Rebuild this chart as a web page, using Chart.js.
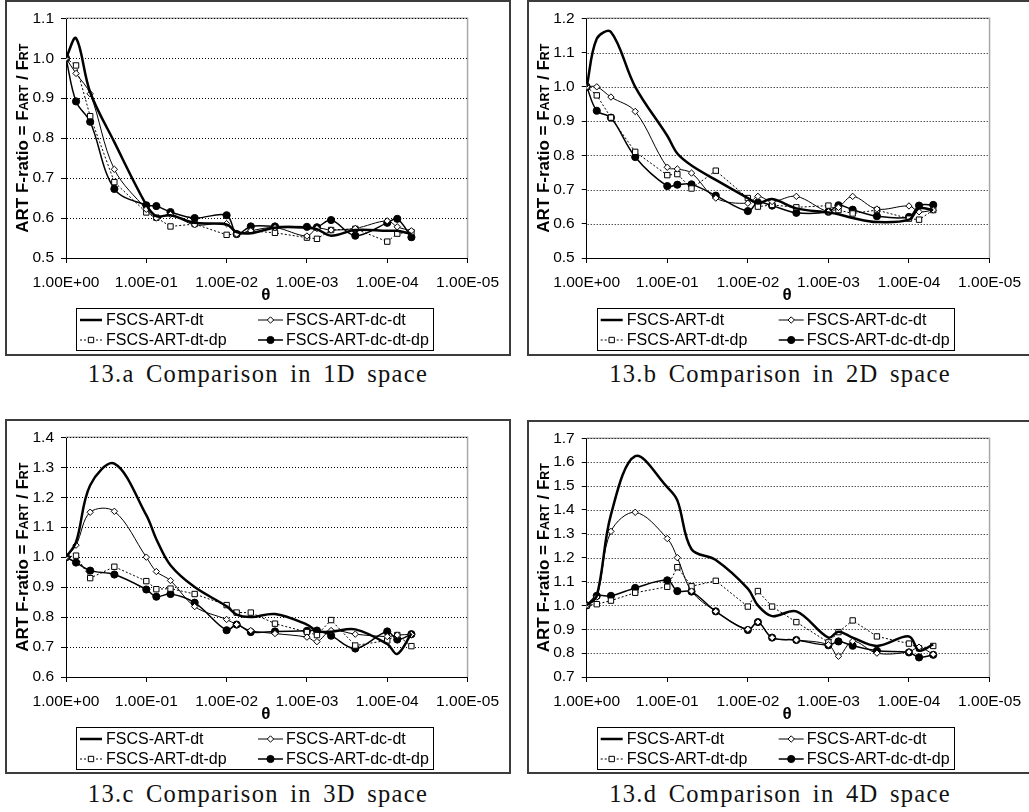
<!DOCTYPE html>
<html><head><meta charset="utf-8">
<script src="https://cdn.jsdelivr.net/npm/chart.js@4.4.1/dist/chart.umd.min.js"></script>
<style>
html,body{margin:0;padding:0;background:#fff;width:1029px;height:812px;overflow:hidden;position:relative;}
.frame{position:absolute;border:2px solid #3c3c3c;box-sizing:border-box;}
canvas{position:absolute;}
.cap{position:absolute;font-family:"Liberation Serif","Times New Roman",serif;font-size:24.5px;line-height:24px;letter-spacing:1.3px;word-spacing:4px;text-align:center;color:#111;white-space:nowrap;}
</style></head><body>
<script>
// ---------------- DATA ----------------
const theta = [1, 0.75, 0.5, 0.25, 0.1, 0.075, 0.05, 0.025, 0.01, 0.0075, 0.005, 0.0025, 0.001, 0.00075, 0.0005, 0.00025, 0.0001, 0.000075, 0.00005];
const seriesNames = ['FSCS-ART-dt', 'FSCS-ART-dc-dt', 'FSCS-ART-dt-dp', 'FSCS-ART-dc-dt-dp'];
const xTickValues = [1, 0.1, 0.01, 0.001, 0.0001, 0.00001];
const xTickLabels = ['1.00E+00', '1.00E-01', '1.00E-02', '1.00E-03', '1.00E-04', '1.00E-05'];
const captions = ['13.a Comparison in 1D space', '13.b Comparison in 2D space', '13.c Comparison in 3D space', '13.d Comparison in 4D space'];

// 1D
const a_dt     = [1.0, 1.05, 0.915, 0.79, 0.633, 0.605, 0.607, 0.588, 0.584, 0.565, 0.562, 0.576, 0.576, 0.572, 0.556, 0.570, 0.568, 0.568, 0.560];
const a_dcdt   = [1.0, 0.962, 0.911, 0.722, 0.622, 0.600, 0.609, 0.583, 0.586, 0.560, 0.568, 0.576, 0.555, 0.574, 0.570, 0.574, 0.593, 0.578, 0.568];
const a_dtdp   = [1.0, 0.982, 0.855, 0.690, 0.614, 0.601, 0.579, 0.585, 0.558, 0.560, 0.568, 0.563, 0.551, 0.548, 0.570, 0.573, 0.541, 0.561, 0.565];
const a_dcdtdp = [1.0, 0.892, 0.841, 0.673, 0.632, 0.630, 0.615, 0.600, 0.607, 0.560, 0.579, 0.579, 0.578, 0.577, 0.595, 0.556, 0.588, 0.598, 0.552];
const a_yTicks = [0.5, 0.6, 0.7, 0.8, 0.9, 1.0, 1.1];
// 2D
const b_dt     = [1.0, 1.14, 1.16, 1.0, 0.857, 0.805, 0.77, 0.728, 0.675, 0.66, 0.672, 0.645, 0.633, 0.628, 0.617, 0.605, 0.612, 0.645, 0.64];
const b_dcdt   = [1.0, 1.0, 0.97, 0.928, 0.765, 0.76, 0.748, 0.675, 0.66, 0.68, 0.665, 0.68, 0.635, 0.648, 0.68, 0.643, 0.652, 0.635, 0.64];
const b_dtdp   = [1.0, 0.975, 0.91, 0.81, 0.742, 0.745, 0.703, 0.755, 0.675, 0.65, 0.655, 0.648, 0.653, 0.64, 0.63, 0.64, 0.615, 0.612, 0.64];
const b_dcdtdp = [1.0, 0.93, 0.91, 0.795, 0.71, 0.714, 0.715, 0.682, 0.637, 0.662, 0.653, 0.632, 0.635, 0.654, 0.641, 0.622, 0.62, 0.653, 0.655];
const b_yTicks = [0.5, 0.6, 0.7, 0.8, 0.9, 1.0, 1.1, 1.2];
// 3D
const c_dt     = [1.0, 1.05, 1.24, 1.312, 1.14, 1.06, 0.973, 0.9, 0.836, 0.808, 0.80, 0.81, 0.775, 0.753, 0.751, 0.759, 0.71, 0.677, 0.745];
const c_dcdt   = [1.0, 1.04, 1.15, 1.153, 1.0, 0.952, 0.922, 0.835, 0.792, 0.775, 0.755, 0.745, 0.733, 0.718, 0.755, 0.743, 0.735, 0.74, 0.742];
const c_dtdp   = [1.0, 1.005, 0.93, 0.968, 0.92, 0.893, 0.895, 0.877, 0.84, 0.815, 0.815, 0.778, 0.75, 0.74, 0.79, 0.705, 0.722, 0.74, 0.703];
const c_dcdtdp = [1.0, 0.982, 0.955, 0.942, 0.892, 0.868, 0.877, 0.848, 0.756, 0.775, 0.75, 0.752, 0.754, 0.755, 0.738, 0.695, 0.752, 0.725, 0.743];
const c_yTicks = [0.6, 0.7, 0.8, 0.9, 1.0, 1.1, 1.2, 1.3, 1.4];
// 4D
const d_dt     = [1.0, 1.04, 1.38, 1.625, 1.495, 1.44, 1.235, 1.19, 1.07, 1.0, 0.955, 0.975, 0.865, 0.89, 0.865, 0.83, 0.87, 0.81, 0.837];
const d_dcdt   = [1.0, 1.035, 1.31, 1.39, 1.28, 1.2, 1.06, 0.975, 0.9, 0.93, 0.865, 0.855, 0.835, 0.787, 0.85, 0.8, 0.805, 0.825, 0.795];
const d_dtdp   = [1.0, 1.005, 1.02, 1.053, 1.078, 1.16, 1.08, 1.103, 0.995, 1.06, 0.995, 0.93, 0.845, 0.888, 0.937, 0.87, 0.84, 0.82, 0.83];
const d_dcdtdp = [1.0, 1.04, 1.04, 1.073, 1.105, 1.06, 1.058, 0.975, 0.897, 0.93, 0.865, 0.855, 0.833, 0.849, 0.831, 0.81, 0.803, 0.782, 0.793];
const d_yTicks = [0.7, 0.8, 0.9, 1.0, 1.1, 1.2, 1.3, 1.4, 1.5, 1.6, 1.7];

// ---------------- LAYOUT (page pixels) ----------------
const panels = [
  {series: [a_dt, a_dcdt, a_dtdp, a_dcdtdp], yTicks: a_yTicks, caption: captions[0],
   frame: {l: 5, t: 0, w: 506, h: 356}, plot: {l: 66, r: 473, t: 14, b: 258}, capTop: 362},
  {series: [b_dt, b_dcdt, b_dtdp, b_dcdtdp], yTicks: b_yTicks, caption: captions[1],
   frame: {l: 527, t: 0, w: 506, h: 356}, plot: {l: 586.7, r: 994, t: 14, b: 258}, capTop: 362},
  {series: [c_dt, c_dcdt, c_dtdp, c_dcdtdp], yTicks: c_yTicks, caption: captions[2],
   frame: {l: 5, t: 419, w: 506, h: 355}, plot: {l: 66, r: 473, t: 433, b: 677}, capTop: 782},
  {series: [d_dt, d_dcdt, d_dtdp, d_dcdtdp], yTicks: d_yTicks, caption: captions[3],
   frame: {l: 527, t: 420, w: 506, h: 354}, plot: {l: 586.7, r: 994, t: 433, b: 677}, capTop: 782}
];

const FONT = '"Liberation Sans", Arial, sans-serif';

const seriesStyles = [
  {borderWidth: 2.5, borderDash: [], pointStyle: 'circle', pointRadius: 0, fill: '#000', tension: 0.35},
  {borderWidth: 1, borderDash: [], pointStyle: 'rectRot', pointRadius: 3.2, fill: '#fff', tension: 0.35},
  {borderWidth: 1, borderDash: [2, 2], pointStyle: 'rect', pointRadius: 3.8, fill: '#fff', tension: 0},
  {borderWidth: 1.5, borderDash: [], pointStyle: 'circle', pointRadius: 3.6, fill: '#000', tension: 0.35}
];

function drawMarker(ctx, style, x, y, r, fill, stroke, lw) {
  if (r <= 0) return;
  ctx.save();
  ctx.setLineDash([]);
  ctx.beginPath();
  if (style === 'circle') ctx.arc(x, y, r, 0, Math.PI * 2);
  else if (style === 'rect') { const s = r * Math.SQRT1_2; ctx.rect(x - s, y - s, 2 * s, 2 * s); }
  else { ctx.moveTo(x - r, y); ctx.lineTo(x, y - r); ctx.lineTo(x + r, y); ctx.lineTo(x, y + r); ctx.closePath(); }
  ctx.fillStyle = fill; ctx.fill();
  ctx.lineWidth = lw; ctx.strokeStyle = stroke; ctx.stroke();
  ctx.restore();
}

const deco = {
  id: 'deco',
  beforeDatasetsDraw(chart) {
    const {ctx, chartArea: a} = chart;
    const y = chart.scales.y;
    ctx.save();
    ctx.strokeStyle = '#a8a8a8'; ctx.lineWidth = 1.5;
    ctx.beginPath(); ctx.moveTo(a.left, a.top); ctx.lineTo(a.right, a.top); ctx.lineTo(a.right, a.bottom); ctx.stroke();
    ctx.strokeStyle = '#000'; ctx.lineWidth = 1; ctx.setLineDash([1, 2]);
    y.ticks.forEach(t => {
      if (t.value <= y.min + 1e-9) return;
      const py = Math.round(y.getPixelForValue(t.value)) + 0.5;
      ctx.beginPath(); ctx.moveTo(a.left + 1, py); ctx.lineTo(a.right, py); ctx.stroke();
    });
    ctx.restore();
  },
  afterDraw(chart) {
    const {ctx, chartArea: a} = chart;
    ctx.save();
    // Y title
    const segs = [
      {t: 'ART F-ratio = F', f: 'bold 17px ' + FONT},
      {t: 'ART', f: 'bold 12.5px ' + FONT},
      {t: ' / F', f: 'bold 17px ' + FONT},
      {t: 'RT', f: 'bold 12.5px ' + FONT}
    ];
    let total = 0;
    segs.forEach(s => { ctx.font = s.f; s.w = ctx.measureText(s.t).width; total += s.w; });
    ctx.translate(a.left - 38, (a.top + a.bottom) / 2);
    ctx.rotate(-Math.PI / 2);
    ctx.fillStyle = '#000'; ctx.textBaseline = 'alphabetic'; ctx.textAlign = 'left';
    let x = -total / 2;
    segs.forEach(s => { ctx.font = s.f; ctx.fillText(s.t, x, 0); x += s.w; });
    ctx.restore();

    // X title
    ctx.save();
    ctx.font = 'bold 17px ' + FONT; ctx.fillStyle = '#000'; ctx.textAlign = 'center'; ctx.textBaseline = 'alphabetic';
    ctx.fillText('θ', (a.left + a.right) / 2 - 1, a.bottom + 42);
    ctx.restore();

    // Legend
    ctx.save();
    const bx = a.left + 10, by = a.bottom + 50, bw = 357, bh = 42;
    ctx.strokeStyle = '#000'; ctx.lineWidth = 1;
    ctx.strokeRect(Math.round(bx) + 0.5, Math.round(by) + 0.5, bw, bh);
    const cols = [{s: 14, e: 36, t: 40}, {s: 192, e: 217, t: 220}];
    const rows = [12, 32];
    const place = [[0, 0], [1, 0], [0, 1], [1, 1]];
    chart.data.datasets.forEach((ds, i) => {
      const c = cols[place[i][0]], ry = by + rows[place[i][1]];
      ctx.save();
      ctx.strokeStyle = '#000'; ctx.lineWidth = ds.borderWidth; ctx.setLineDash(ds.borderDash || []);
      ctx.beginPath(); ctx.moveTo(a.left + c.s, ry); ctx.lineTo(a.left + c.e, ry); ctx.stroke();
      ctx.restore();
      drawMarker(ctx, ds.pointStyle, a.left + (c.s + c.e) / 2, ry, ds.pointRadius, ds.pointBackgroundColor, '#000', 1);
      ctx.font = '16px ' + FONT; ctx.fillStyle = '#000'; ctx.textBaseline = 'middle'; ctx.textAlign = 'left';
      ctx.fillText(ds.label, a.left + c.t, ry + 1);
    });
    ctx.restore();
  }
};

panels.forEach(p => {
  const fr = document.createElement('div');
  fr.className = 'frame';
  Object.assign(fr.style, {left: p.frame.l + 'px', top: p.frame.t + 'px', width: p.frame.w + 'px', height: p.frame.h + 'px'});
  document.body.appendChild(fr);

  const cl = p.frame.l + 2, ct = p.frame.t + 2, W = p.frame.w - 4, H = p.frame.h - 4;
  const cv = document.createElement('canvas');
  cv.width = W; cv.height = H;
  Object.assign(cv.style, {left: cl + 'px', top: ct + 'px', width: W + 'px', height: H + 'px'});
  document.body.appendChild(cv);

  const pl = p.plot.l - cl, pr = p.plot.r - cl, pt = p.plot.t - ct, pb = p.plot.b - ct;

  const cap = document.createElement('div');
  cap.className = 'cap';
  cap.textContent = p.caption;
  Object.assign(cap.style, {left: p.frame.l + 'px', top: p.capTop + 'px', width: p.frame.w + 'px'});
  document.body.appendChild(cap);

  const datasets = p.series.map((vals, i) => {
    const st = seriesStyles[i];
    return {
      label: seriesNames[i],
      data: theta.map((t, k) => ({x: t, y: vals[k]})),
      borderColor: '#000', borderWidth: st.borderWidth, borderDash: st.borderDash,
      pointStyle: st.pointStyle, pointRadius: st.pointRadius, pointHoverRadius: st.pointRadius,
      pointBackgroundColor: st.fill, pointBorderColor: '#000', pointBorderWidth: 1,
      tension: st.tension, fill: false
    };
  });

  new Chart(cv, {
    type: 'line',
    data: {datasets},
    options: {
      responsive: false, animation: false, devicePixelRatio: 1,
      layout: {padding: {left: 0, top: pt, right: W - pr, bottom: 0}},
      plugins: {legend: {display: false}, tooltip: {enabled: false}},
      events: [],
      scales: {
        x: {
          type: 'logarithmic', reverse: true, min: 1e-5, max: 1,
          afterBuildTicks: s => { s.ticks = xTickValues.map(v => ({value: v})); },
          afterFit: s => { s.height = H - pb; },
          ticks: {autoSkip: false, maxRotation: 0, minRotation: 0, padding: 10, color: '#000',
                  font: {family: FONT, size: 15.5}, callback: (v, i) => xTickLabels[i]},
          grid: {drawOnChartArea: false, drawTicks: true, tickLength: 5, tickColor: '#000', tickWidth: 1},
          border: {color: '#000', width: 1}
        },
        y: {
          type: 'linear', min: p.yTicks[0], max: p.yTicks[p.yTicks.length - 1],
          afterBuildTicks: s => { s.ticks = p.yTicks.map(v => ({value: v})); },
          afterFit: s => { s.width = pl; },
          ticks: {padding: 7, color: '#000', font: {family: FONT, size: 15.5}, callback: v => Number(v).toFixed(1)},
          grid: {drawOnChartArea: false, drawTicks: true, tickLength: 5, tickColor: '#000', tickWidth: 1},
          border: {color: '#000', width: 1}
        }
      }
    },
    plugins: [deco]
  });
});
</script>
</body></html>
